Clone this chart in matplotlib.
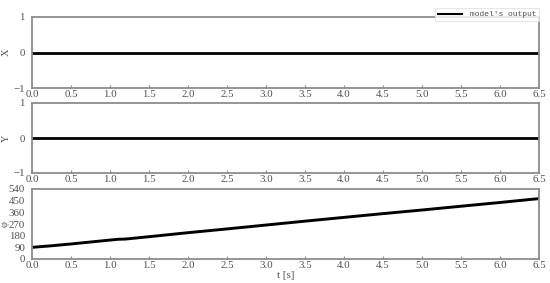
import matplotlib
matplotlib.use("Agg")
import matplotlib.pyplot as plt
from matplotlib.lines import Line2D
import numpy as np

t = [0.0, 6.5]
x_vals = [0.0, 0.0]
y_vals = [0.0, 0.0]
t_phi = [0.0, 0.25, 0.5, 0.75, 1.0, 1.1, 1.2, 1.5, 2.0, 2.5, 3.0, 3.5, 4.0, 4.5, 5.0, 5.5, 6.0, 6.5]
phi = [90, 102, 116, 131, 146, 152, 154, 172, 203, 232, 262, 292, 321, 350, 378, 407, 436, 466]
xticks = [0.0, 0.5, 1.0, 1.5, 2.0, 2.5, 3.0, 3.5, 4.0, 4.5, 5.0, 5.5, 6.0, 6.5]
phi_ticks = [0, 90, 180, 270, 360, 450, 540]

plt.rcParams['font.family'] = ['Liberation Serif', 'DejaVu Serif']
plt.rcParams['axes.unicode_minus'] = True
fig = plt.figure(figsize=(5.5, 2.83), dpi=100)
W, H = 550, 283
left, right = 32 / W, 539 / W
boxes = [(17, 88), (103, 173), (189, 259)]
axes = []
for top, bot in boxes:
    ax = fig.add_axes([left, 1 - bot / H, right - left, (bot - top) / H])
    axes.append(ax)

gray = '#8c8c8c'
txtc = '#505050'
for ax in axes:
    for s in ax.spines.values():
        s.set_color(gray)
        s.set_linewidth(1.3)
    ax.set_xlim(0, 6.5)
    ax.set_xticks(xticks)
    ax.set_xticklabels([f"{v:.1f}" for v in xticks])
    ax.tick_params(axis='x', direction='in', length=2.5, color=gray, labelsize=7.8, labelcolor=txtc, pad=1.5)
    ax.tick_params(axis='y', direction='in', length=0, labelsize=7.8, labelcolor=txtc, pad=5)

axes[0].plot(t, x_vals, color='black', lw=2.0)
axes[0].set_ylim(-1, 1)
axes[0].set_yticks([-1, 0, 1])
axes[0].set_ylabel('X', fontsize=7.5, color=txtc)
axes[0].yaxis.set_label_coords(-0.042, 0.5)

axes[1].plot(t, y_vals, color='black', lw=2.0)
axes[1].set_ylim(-1, 1)
axes[1].set_yticks([-1, 0, 1])
axes[1].set_ylabel('Y', fontsize=7.5, color=txtc)
axes[1].yaxis.set_label_coords(-0.042, 0.5)

axes[2].plot(t_phi, phi, color='black', lw=2.1)
axes[2].set_ylim(0, 540)
axes[2].set_yticks(phi_ticks)
axes[2].set_ylabel('φ', fontsize=7.5, color=txtc)
axes[2].yaxis.set_label_coords(-0.045, 0.5)
axes[2].set_xlabel('t [s]', fontsize=7.8, color=txtc, labelpad=1)

handle = Line2D([], [], color='black', lw=1.5)
leg = axes[0].legend(handles=[handle], labels=["model's output"], loc='lower right',
                     bbox_to_anchor=(1.0, 0.94),
                     prop={'family': 'Liberation Mono', 'size': 5.8},
                     frameon=True, fancybox=False, handlelength=3.0,
                     borderpad=0.35, handletextpad=0.9, borderaxespad=0)
leg.get_frame().set_edgecolor('#e0e0e0')
leg.get_frame().set_linewidth(0.8)
for txt in leg.get_texts():
    txt.set_color(txtc)

fig.savefig('out.png', dpi=100)
